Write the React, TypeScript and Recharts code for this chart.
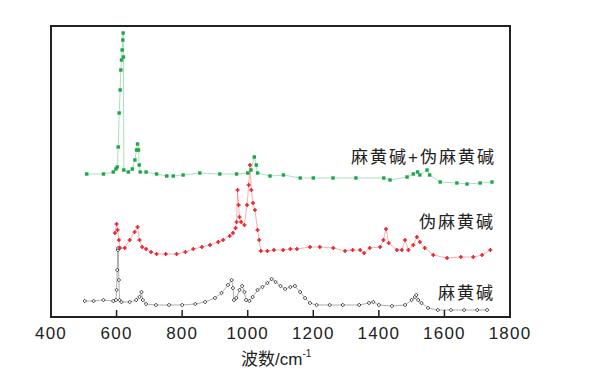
import React from 'react';
import { LineChart, Line, XAxis, YAxis, ReferenceArea, ReferenceLine } from 'recharts';

// wavenumber (cm-1) / relative intensity, offset per trace
const ephedrine = [
  [503, 16], [530, 16], [560, 17], [590, 16], [598, 17], [600, 27], [602, 47], [604, 67], [605, 69],
  [607, 37], [609, 17], [615, 15], [640, 15], [660, 17], [670, 20], [676, 25], [680, 17], [690, 13],
  [720, 12], [760, 12], [800, 12], [840, 13], [870, 15], [900, 19], [920, 24], [940, 32], [951, 37],
  [955, 29], [958, 17], [965, 19], [975, 27], [983, 31], [990, 25], [995, 17], [1005, 16], [1015, 20],
  [1030, 27], [1045, 30], [1060, 34], [1073, 38], [1085, 35], [1100, 31], [1114, 28], [1130, 30],
  [1144, 31], [1160, 25], [1175, 19], [1190, 14], [1210, 12], [1250, 12], [1290, 12], [1340, 12],
  [1370, 14], [1383, 15], [1400, 12], [1440, 11], [1480, 12], [1500, 17], [1510, 20], [1514, 22],
  [1520, 17], [1530, 14], [1550, 9], [1580, 7], [1620, 7], [1660, 7], [1700, 7], [1730, 7],
];

const pseudoephedrine = [
  [595, 84], [600, 93], [603, 87], [607, 77], [610, 69], [625, 69], [640, 77], [655, 85], [664, 90],
  [670, 77], [678, 70], [690, 68], [705, 65], [722, 63], [750, 63], [783, 63], [810, 65], [834, 68],
  [860, 70], [885, 72], [910, 75], [925, 77], [945, 81], [955, 84], [963, 89], [966, 95], [969, 127],
  [972, 112], [975, 100], [980, 95], [990, 92], [998, 112], [1003, 132], [1007, 152], [1011, 127],
  [1016, 114], [1022, 107], [1030, 87], [1035, 77], [1040, 66], [1060, 66], [1080, 67], [1108, 67],
  [1130, 68], [1150, 68], [1190, 70], [1220, 70], [1261, 69], [1297, 66], [1320, 67], [1343, 67],
  [1355, 64], [1372, 69], [1404, 70], [1414, 77], [1422, 88], [1430, 74], [1455, 67], [1470, 67],
  [1480, 77], [1490, 67], [1505, 72], [1516, 80], [1525, 75], [1540, 69], [1566, 62], [1608, 59],
  [1650, 60], [1688, 60], [1715, 62], [1740, 67],
];

const mixture = [
  [509, 143], [560, 143], [590, 145], [598, 148], [602, 150], [605, 170], [608, 204], [611, 227],
  [613, 247], [615, 257], [617, 267], [619, 277], [620, 284], [621, 260], [622, 147], [636, 145],
  [648, 148], [656, 157], [661, 167], [664, 173], [667, 167], [669, 152], [672, 145], [690, 145],
  [722, 143], [753, 141], [773, 141], [803, 142], [854, 144], [915, 143], [966, 143], [1000, 144],
  [1010, 147], [1020, 160], [1026, 152], [1030, 144], [1068, 141], [1109, 142], [1160, 139],
  [1200, 139], [1260, 139], [1330, 139], [1415, 139], [1434, 137], [1486, 140], [1505, 143],
  [1518, 145], [1525, 142], [1547, 147], [1555, 142], [1587, 135], [1638, 134], [1669, 133],
  [1709, 134], [1745, 135],
];

const xTicks = [400, 600, 800, 1000, 1200, 1400, 1600, 1800];
const innerTicks = [600, 800, 1000, 1200, 1400, 1600];

const toRows = (arr: number[][]) => arr.map(([w, v]) => ({ w, v }));

const FONT = '"Liberation Sans", "Noto Sans CJK SC", sans-serif';
const GREEN = '#1ba64a';
const RED = '#e8232d';
const BLACK = '#333';

const SquareDot = (props: any) => (
  <rect key={`g-${props.index}`} x={props.cx - 1.7} y={props.cy - 1.7} width={3.4} height={3.4} fill={GREEN} />
);

const PlusDot = (props: any) => (
  <path
    key={`r-${props.index}`}
    d={`M${props.cx - 2},${props.cy}H${props.cx + 2}M${props.cx},${props.cy - 2}V${props.cy + 2}`}
    stroke={RED}
    strokeWidth={1.5}
  />
);

const DiamondDot = (props: any) => (
  <path
    key={`b-${props.index}`}
    d={`M${props.cx},${props.cy - 1.8}L${props.cx + 1.8},${props.cy}L${props.cx},${props.cy + 1.8}L${props.cx - 1.8},${props.cy}Z`}
    fill="#fff"
    stroke={BLACK}
    strokeWidth={0.9}
  />
);

const labelStyle: React.CSSProperties = {
  position: 'absolute',
  fontSize: 17,
  lineHeight: '17px',
  letterSpacing: 2,
  color: '#222',
  textAlign: 'right',
  whiteSpace: 'nowrap',
};

export default function App() {
  return (
    <div style={{ position: 'absolute', left: 0, top: 0, width: 596, height: 386, background: '#fff', fontFamily: FONT }}>
      <LineChart width={596} height={386} margin={{ top: 26, right: 86, left: 51, bottom: 39 }}>
        <XAxis
          type="number"
          dataKey="w"
          domain={[400, 1800]}
          ticks={xTicks}
          allowDataOverflow
          axisLine={false}
          tickLine={false}
          tickSize={0}
          tickMargin={10}
          tick={{ fill: '#222', fontSize: 17, letterSpacing: 1.2, fontFamily: FONT }}
        />
        <YAxis type="number" domain={[0, 291]} hide allowDataOverflow />
        <ReferenceArea x1={400} x2={1800} y1={0} y2={291} fill="none" stroke="#222" strokeWidth={2} />
        {innerTicks.map((t) => (
          <ReferenceLine key={t} segment={[{ x: t, y: 0 }, { x: t, y: 7 }]} stroke="#222" strokeWidth={1.5} />
        ))}
        <Line
          data={toRows(ephedrine)}
          dataKey="v"
          stroke={BLACK}
          strokeWidth={0.8}
          strokeOpacity={0.5}
          dot={DiamondDot}
          isAnimationActive={false}
        />
        <Line
          data={toRows(pseudoephedrine)}
          dataKey="v"
          stroke={RED}
          strokeWidth={0.8}
          strokeOpacity={0.45}
          dot={PlusDot}
          isAnimationActive={false}
        />
        <Line
          data={toRows(mixture)}
          dataKey="v"
          stroke={GREEN}
          strokeWidth={0.8}
          strokeOpacity={0.45}
          dot={SquareDot}
          isAnimationActive={false}
        />
      </LineChart>
      <div style={{ ...labelStyle, right: 100, top: 149 }}>麻黄碱+伪麻黄碱</div>
      <div style={{ ...labelStyle, right: 101, top: 214 }}>伪麻黄碱</div>
      <div style={{ ...labelStyle, right: 101, top: 285 }}>麻黄碱</div>
      <div style={{ position: 'absolute', left: 241, top: 351, fontSize: 17, lineHeight: '17px', color: '#222', whiteSpace: 'nowrap' }}>
        波数/cm<sup style={{ fontSize: 10, lineHeight: '10px', verticalAlign: 'top', position: 'relative', top: -2 }}>-1</sup>
      </div>
    </div>
  );
}
